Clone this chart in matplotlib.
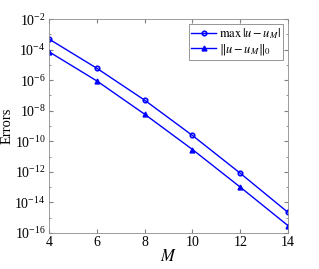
import matplotlib
matplotlib.use('Agg')
import matplotlib.pyplot as plt
import numpy as np

plt.rcParams['font.family'] = 'Liberation Serif'
plt.rcParams['mathtext.fontset'] = 'stix'

M = [4, 6, 8, 10, 12, 14]
err_max = [4.9e-4, 6.0e-6, 4.9e-8, 2.4e-10, 8.1e-13, 2.2e-15]
err_l2 = [7.2e-5, 8.9e-7, 5.9e-9, 2.9e-11, 1.0e-13, 3.0e-16]
yticks = [1e-2, 1e-4, 1e-6, 1e-8, 1e-10, 1e-12, 1e-14, 1e-16]

fig = plt.figure(figsize=(3.19, 2.69), dpi=100)
ax = fig.add_axes([0.154, 0.134, 0.749, 0.795])

ax.semilogy(M, err_max, '-o', color='blue', lw=1, ms=3.2, mfc='none', mew=1.2,
            label=r'$\max\,|u-u_M|$')
ax.semilogy(M, err_l2, '-^', color='blue', lw=1, ms=3.5, mew=1,
            label=r'$\|u-u_M\|_0$')

ax.set_xlim(4, 14)
ax.set_ylim(1e-16, 1e-2)
ax.set_xticks([4, 6, 8, 10, 12, 14])
ax.set_yticks(yticks)
ax.set_yticklabels(['$\\mathregular{10^{%d}}$' % int(np.log10(t)) for t in yticks])
ax.yaxis.set_minor_locator(matplotlib.ticker.LogLocator(base=10, subs=(1.0,), numticks=30))
ax.yaxis.set_minor_formatter(matplotlib.ticker.NullFormatter())

ax.tick_params(which='both', direction='in', top=True, right=True, labelsize=10,
               color='0.5', length=3, pad=2.5)
ax.tick_params(which='minor', length=1.5)
for s in ax.spines.values():
    s.set_color('0.55')
    s.set_linewidth(0.6)

ax.set_xlabel('$M$', fontsize=12, labelpad=0)
ax.set_ylabel('Errors', fontsize=10.5)
ax.yaxis.set_label_coords(-0.148, 0.5)

leg = ax.legend(loc='upper right', fontsize=9, handlelength=2, borderpad=0.2,
                labelspacing=0.05, handletextpad=0.2, fancybox=False,
                borderaxespad=0.4)
leg.get_frame().set_edgecolor('0.4')
leg.get_frame().set_linewidth(0.6)

fig.savefig('out.png', dpi=100)
